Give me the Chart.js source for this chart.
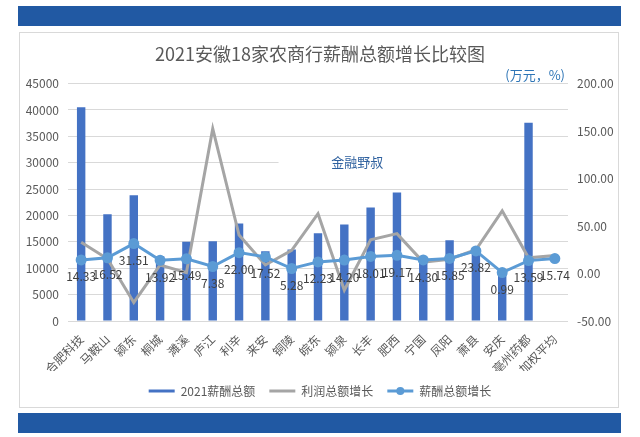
<!DOCTYPE html>
<html>
<head>
<meta charset="utf-8">
<script src="https://cdn.jsdelivr.net/npm/chart.js@4.4.1/dist/chart.umd.min.js"></script>
<style>
  html, body { margin: 0; padding: 0; background: #fff; }
  #wrap { position: relative; width: 640px; height: 437px; overflow: hidden; }
  .band { position: absolute; left: 18px; width: 603px; background: #2159a3; }
  #card { position: absolute; left: 19px; top: 32px; width: 600px; height: 376px; border: 1px solid #d9d9d9; box-sizing: border-box; }
  #box { position: absolute; left: 0; top: 0; width: 640px; height: 437px; }
</style>
</head>
<body>
<div id="wrap">
  <div class="band" style="top:6px;height:20px"></div>
  <div id="card"></div>
  <div class="band" style="top:413px;height:20px"></div>
  <div id="box"><canvas id="myChart"></canvas></div>
</div>
<script>
// categories (banks)
const categories = ['合肥科技', '马鞍山', '颍东', '桐城', '濉溪', '庐江', '利辛', '来安', '铜陵',
  '皖东', '颍泉', '长丰', '肥西', '宁国', '凤阳', '萧县', '安庆', '亳州药都', '加权平均'];

// 2021 salary total (万元), left axis
const salary2021 = [40500, 20250, 23860, 12280, 15000, 15130, 18480, 13230, 13550,
  16650, 18290, 21520, 24370, 11700, 15320, 13900, 9000, 37600, null];

// profit growth (%), right axis
const profitGrowth = [33, 15.5, -30.5, 9, 1, 152.5, 40.5, 9, 24.5,
  63, -17.5, 35.5, 42, 12, 15, 25, 66, 16.5, 19];

// salary growth (%), right axis - labelled values
const salaryGrowth = [14.33, 16.52, 31.51, 13.92, 15.49, 7.38, 22.00, 17.52, 5.28,
  12.23, 14.20, 18.01, 19.17, 14.30, 15.85, 23.82, 0.99, 13.59, 15.74];

const seriesNames = ['2021薪酬总额', '利润总额增长', '薪酬总额增长'];

// axis ranges
const leftMin = 0, leftMax = 45000, leftStep = 5000;
const rightMin = -50, rightMax = 200, rightStep = 50;

const FONT = '"Noto Sans CJK SC", "Noto Sans", sans-serif';
const GREY_TEXT = '#595959';

// extra drawing: data labels, unit text, watermark, legend marker
const extras = {
  id: 'extras',
  beforeDatasetsDraw(chart) {
    // the watermark box hides part of the 30000 gridline
    const { ctx, chartArea } = chart;
    const y = chart.scales.y.getPixelForValue(30000);
    const x0 = chart.scales.x.getPixelForValue(7.5);
    ctx.save();
    ctx.fillStyle = '#fff';
    ctx.fillRect(x0, y - 3, chartArea.right - x0, 6);
    ctx.restore();
  },
  afterDatasetsDraw(chart) {
    const ctx = chart.ctx;
    const meta = chart.getDatasetMeta(2);
    ctx.save();
    ctx.font = '12px ' + FONT;
    ctx.fillStyle = '#404040';
    ctx.textAlign = 'center';
    ctx.textBaseline = 'middle';
    meta.data.forEach((pt, i) => {
      ctx.fillText(salaryGrowth[i].toFixed(2), pt.x, pt.y + 17);
    });
    ctx.restore();
  },
  afterDraw(chart) {
    const { ctx, chartArea } = chart;
    ctx.save();
    // unit
    ctx.font = '13px ' + FONT;
    ctx.fillStyle = '#2e75b6';
    ctx.textAlign = 'right';
    ctx.textBaseline = 'middle';
    ctx.fillText('(万元，%)', chartArea.right - 3, chartArea.top - 9);
    // watermark
    ctx.fillStyle = '#2f619f';
    ctx.textAlign = 'left';
    ctx.fillText('金融野叔', chart.scales.x.getPixelForValue(9.5), chart.scales.y.getPixelForValue(30000) - 1);
    // marker on the legend line of the salary growth series
    const hb = chart.legend.legendHitBoxes[2];
    if (hb) {
      ctx.fillStyle = '#5B9BD5';
      ctx.beginPath();
      ctx.arc(hb.left + 13, hb.top + hb.height / 2, 4, 0, Math.PI * 2);
      ctx.fill();
    }
    ctx.restore();
  }
};

const ctx = document.getElementById('myChart');

const myChart = new Chart(ctx, {
  type: 'bar',
  data: {
    labels: categories,
    datasets: [
      {
        type: 'bar',
        label: seriesNames[0],
        data: salary2021,
        backgroundColor: '#4472C4',
        yAxisID: 'y',
        order: 3,
        barPercentage: 0.32,
        categoryPercentage: 1
      },
      {
        type: 'line',
        label: seriesNames[1],
        data: profitGrowth,
        borderColor: '#A5A5A5',
        backgroundColor: '#A5A5A5',
        borderWidth: 3,
        pointRadius: 0,
        tension: 0,
        yAxisID: 'y1',
        order: 2
      },
      {
        type: 'line',
        label: seriesNames[2],
        data: salaryGrowth,
        borderColor: '#5B9BD5',
        backgroundColor: '#5B9BD5',
        borderWidth: 3,
        pointRadius: 4,
        pointBackgroundColor: '#5B9BD5',
        pointBorderColor: '#5B9BD5',
        tension: 0,
        yAxisID: 'y1',
        order: 1
      }
    ]
  },
  options: {
    responsive: true,
    maintainAspectRatio: false,
    animation: false,
    layout: { padding: { left: 0, right: 0, top: 0, bottom: 30 } },
    plugins: {
      title: {
        display: true,
        text: '2021安徽18家农商行薪酬总额增长比较图',
        color: GREY_TEXT,
        font: { family: FONT, size: 18, weight: 'normal' },
        padding: { top: 43, bottom: 19 }
      },
      legend: {
        position: 'bottom',
        labels: {
          boxWidth: 26,
          boxHeight: 3,
          padding: 14,
          color: GREY_TEXT,
          font: { family: FONT, size: 12 },
          generateLabels(chart) {
            return chart.data.datasets.map((ds, i) => ({
              text: ds.label,
              fillStyle: ds.backgroundColor,
              strokeStyle: ds.backgroundColor,
              lineWidth: 0,
              fontColor: GREY_TEXT,
              hidden: false,
              datasetIndex: i
            }));
          }
        }
      },
      tooltip: { enabled: false }
    },
    scales: {
      x: {
        grid: { display: false },
        border: { display: false },
        ticks: {
          color: GREY_TEXT,
          font: { family: FONT, size: 12 },
          minRotation: 45,
          maxRotation: 45,
          autoSkip: false,
          padding: 3
        },
        afterFit(scale) { scale.height = 50; }
      },
      y: {
        position: 'left',
        min: leftMin,
        max: leftMax,
        ticks: {
          stepSize: leftStep,
          color: GREY_TEXT,
          font: { family: FONT, size: 12 },
          padding: 9,
          callback: (v) => String(v)
        },
        grid: { color: '#d9d9d9', drawTicks: false },
        border: { display: false },
        afterFit(scale) { scale.width = 68; }
      },
      y1: {
        position: 'right',
        min: rightMin,
        max: rightMax,
        ticks: {
          stepSize: rightStep,
          color: GREY_TEXT,
          font: { family: FONT, size: 12 },
          padding: 9,
          callback: (v) => v.toFixed(2)
        },
        grid: { display: false, drawTicks: false },
        border: { display: false },
        afterFit(scale) { scale.width = 72; }
      }
    }
  },
  plugins: [extras]
});
</script>
</body>
</html>
